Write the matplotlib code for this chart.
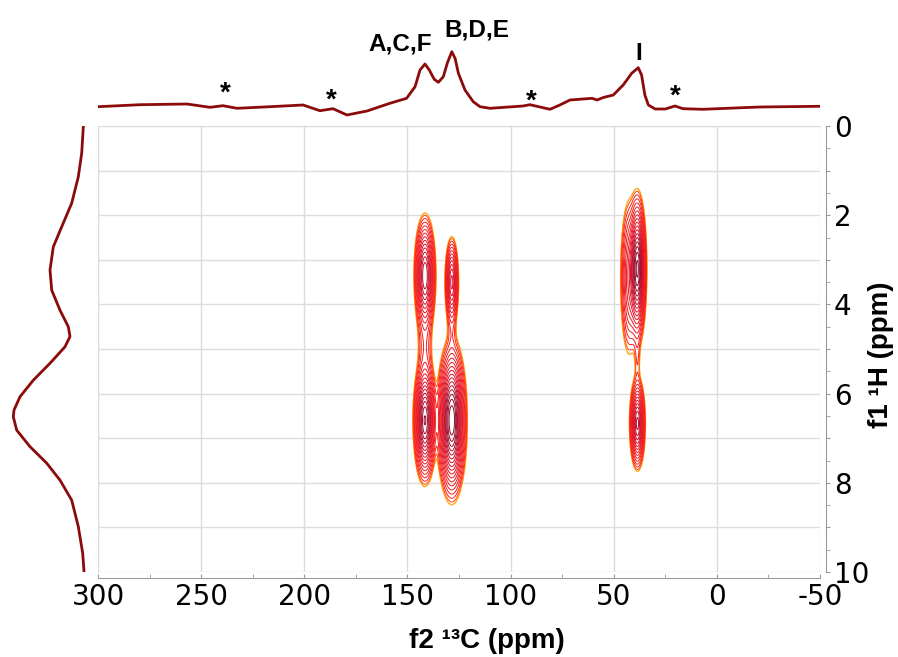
import numpy as np
import matplotlib
matplotlib.use('Agg')
import matplotlib.pyplot as plt
from matplotlib.colors import LinearSegmentedColormap
from matplotlib.ticker import MultipleLocator, FuncFormatter

plt.rcParams['axes.unicode_minus'] = False

# ---- top projection (13C), ppm vs intensity (arb.)
top_ppm = [300, 279.6, 256.9, 245.7, 239.4, 232.6, 216.6, 200.6, 192.4, 186.1,
           179.3, 169.6, 158.5, 150.4, 146.3, 143.9, 141.5, 139.4, 137.0, 135.0,
           132.6, 130.7, 128.5, 126.9, 125.3, 122.1, 118.1, 114.8, 110.0, 94.0,
           90.6, 80.9, 76.1, 71.2, 60.5, 58.1, 55.0, 50.2, 45.4, 41.3, 38.1,
           36.5, 34.9, 33.2, 29.9, 25.0, 20.3, 16.4, 6.7, -4.9, -20.9, -50]
top_int = [3.3, 5.3, 6, 2.7, 4.3, 1.7, 3.3, 5, -0.7, 1.3,
           -5, -1, 6.7, 11.7, 23.3, 40, 46, 40, 30.7, 27.7,
           33.3, 46.7, 58.3, 51.7, 36.7, 20, 8.3, 3.3, 1.7, 4,
           5.3, 0.7, 5, 10, 11.7, 10, 12.5, 15, 25, 36.7, 42.3,
           35, 15, 5, 1, 1, 4, 1.3, 0.7, 1.7, 3, 3.7]

# ---- left projection (1H)
left_ppm = [0.02, 0.61, 1.14, 1.73, 2.26, 2.71, 3.23, 3.68, 4.13, 4.50, 4.72,
            4.95, 5.32, 5.70, 6.07, 6.37, 6.52, 6.82, 7.19, 7.56, 7.94, 8.39,
            8.98, 9.58, 9.99]
left_int = [6.7, 8.3, 11.7, 18.3, 28.3, 36.7, 40, 38.3, 30, 21.7, 20,
            25, 40, 56.7, 70, 76, 76.7, 73.3, 60, 43.3, 30, 18.3,
            11.7, 7.3, 6]

# ---- 2D cross peaks: 13C centre, 1H centre, widths, amplitude
peak_c = [141.5, 141.5, 141.5, 128.5, 128.5, 128.5, 38.5, 42.5, 38.5, 38.5]
peak_h = [3.35, 4.9, 6.6, 3.5, 4.5, 6.6, 3.2, 3.4, 5.2, 6.67]
peak_wc = [2.1, 2.0, 2.2, 1.4, 1.3, 2.75, 1.7, 2.0, 0.9, 1.55]
peak_wh = [0.54, 0.6, 0.55, 0.42, 0.4, 0.68, 0.65, 0.8, 0.4, 0.42]
peak_amp = [0.6, 0.06, 0.8, 0.4, 0.03, 1.0, 0.9, 0.2, 0.03, 0.55]

labels = ['A,C,F', 'B,D,E', 'I']
label_x = [153.6, 116.4, 37.8]
label_y = [59.3, 73.3, 50]
star_x = [238.4, 187, 90, 20]
star_y = [9.5, 2.5, 1.5, 6.5]

dark = '#8b0a0a'

fig = plt.figure(figsize=(8.98, 6.57), dpi=100)
W, H = 898, 657
ax = fig.add_axes([98/W, 1-572/H, 722/W, 446/H])
axt = fig.add_axes([98/W, 1-120/H, 722/W, 110/H])
axl = fig.add_axes([0, 1-572/H, 95/W, 446/H])

# field for contours
cc = np.arange(-50, 300.01, 0.2)
hh = np.arange(0, 10.001, 0.02)
C, Hm = np.meshgrid(cc, hh)
Z = np.zeros_like(C)
for c0, h0, wc, wh, a in zip(peak_c, peak_h, peak_wc, peak_wh, peak_amp):
    Z += a*np.exp(-0.5*((C-c0)/wc)**2 - 0.5*((Hm-h0)/wh)**2)

cmap = LinearSegmentedColormap.from_list(
    'nmr', [(0, '#ffcf60'), (0.06, '#ff9000'), (0.13, '#ff2015'),
            (0.55, '#e01028'), (1, '#7a0a2c')])
nlev = 20
levels = 0.02 + 0.98*np.linspace(0, 1, nlev)**2.2
cols = [cmap(i/(nlev-1)) for i in range(nlev)]
ax.contour(C, Hm, Z, levels=levels, colors=cols, linewidths=0.7)

ax.set_xlim(300, -50)
ax.set_ylim(10, 0)
ax.xaxis.set_major_locator(MultipleLocator(50))
ax.xaxis.set_minor_locator(MultipleLocator(25))
ax.yaxis.set_major_locator(MultipleLocator(1))
ax.yaxis.set_minor_locator(MultipleLocator(0.5))
ax.yaxis.set_major_formatter(FuncFormatter(lambda v, p: '%d' % v if int(round(v)) % 2 == 0 else ''))
ax.grid(True, which='major', color='#dcdcdc', lw=1)
ax.set_axisbelow(True)
ax.yaxis.tick_right()
for s in ['top', 'left']:
    ax.spines[s].set_color('#dcdcdc')
for s in ['bottom', 'right']:
    ax.spines[s].set_position(('outward', 4))
    ax.spines[s].set_color('#9a9a9a')
ax.tick_params(which='both', direction='in', length=3, color='#9a9a9a',
               labelsize=20, pad=4)
ax.tick_params(axis='y', which='both', direction='out', length=3, pad=3)
for t in ax.get_xticklabels() + ax.get_yticklabels():
    t.set_family('DejaVu Sans')

# top projection
axt.plot(top_ppm, top_int, color=dark, lw=2, solid_joinstyle='round')
axt.set_xlim(300, -50)
axt.set_ylim(-10, 100)
axt.axis('off')
for s, x, y in zip(labels, label_x, label_y):
    axt.text(x, y, s, ha='center', va='baseline', fontsize=17.5, fontweight='bold',
             family='Liberation Sans', clip_on=False)
for x, y in zip(star_x, star_y):
    axt.text(x, y, '*', ha='center', va='baseline', fontsize=20, fontweight='bold',
             family='Liberation Sans', clip_on=False)

# left projection
axl.plot(left_int, left_ppm, color=dark, lw=2, solid_joinstyle='round')
axl.set_xlim(90, -5)
axl.set_ylim(10, 0)
axl.axis('off')

fig.text(487/W, 1-641/H, 'f2 \u00b9\u00b3C (ppm)', ha='center', va='center',
         fontsize=20, fontweight='bold', family='Liberation Sans')
fig.text(881/W, 1-355/H, 'f1 \u00b9H (ppm)', ha='center', va='center', rotation=90,
         fontsize=20, fontweight='bold', family='Liberation Sans')

fig.savefig('out.png', dpi=100)
